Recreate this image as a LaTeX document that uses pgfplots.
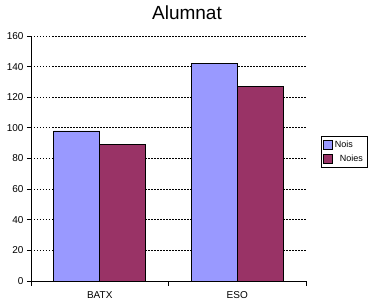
\documentclass[border=0pt]{standalone}
\usepackage{pgfplots}
\pgfplotsset{compat=1.18}
\usepackage{fontspec}
\setmainfont{Liberation Sans}
\definecolor{nois}{HTML}{9999FF}
\definecolor{noies}{HTML}{993366}
\begin{document}
\begin{tikzpicture}[x=1pt,y=1pt]
\useasboundingbox (0,0) rectangle (375,304);
\node[font=\fontsize{19}{22}\selectfont] at (187,291) {Alumnat};
\begin{axis}[
  at={(31pt,23pt)}, anchor=south west,
  scale only axis, width=275pt, height=245pt,
  ybar=0pt, bar width=46pt,
  xmin=-0.5, xmax=1.5, ymin=0, ymax=160,
  axis x line=bottom, axis y line=left,
  axis line style={-, black, line width=0.8pt},
  xtick={0,1}, xticklabels={BATX,ESO},
  major x tick style={draw=none},
  extra x ticks={-0.5,0.5,1.5}, extra x tick labels={},
  extra x tick style={major tick length=5pt, tick align=outside, grid=none, major x tick style={draw=black, line width=0.8pt}},
  ytick={0,20,...,160},
  y tick style={black, line width=0.8pt},
  major tick length=4pt, tick align=outside,
  ymajorgrids, grid style={black, line width=0.8pt, dash pattern=on 1.5pt off 1.5pt},
  tick label style={font=\fontsize{10}{12}\selectfont},
  /pgf/number format/assume math mode=true,
  xticklabel style={yshift=-3pt},
  legend style={at={(1.0545,0.592)}, anchor=north west, draw=black, line width=0.8pt,
    font=\fontsize{9}{11}\selectfont, inner xsep=2pt, inner ysep=2.5pt, row sep=2pt,
    legend cell align=left},
  legend image code/.code={\draw[#1, line width=0.6pt] (0pt,-4.5pt) rectangle (9pt,4.5pt);},
]
\addplot[fill=nois, draw=black, line width=0.8pt] coordinates {(0,98) (1,142)};
\addplot[fill=noies, draw=black, line width=0.8pt] coordinates {(0,89) (1,127)};
\legend{Nois,\ \ Noies}
\end{axis}
\end{tikzpicture}
\end{document}
